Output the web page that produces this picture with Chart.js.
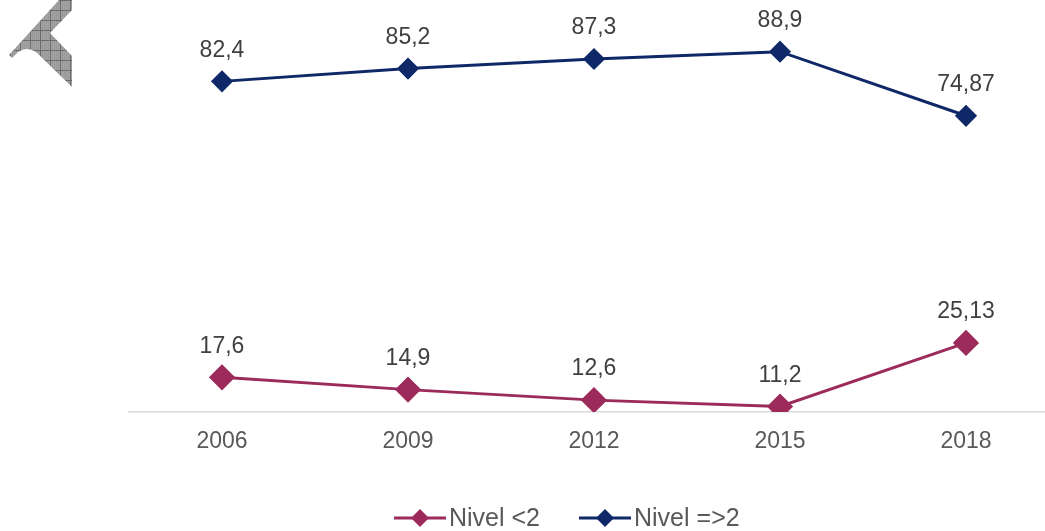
<!DOCTYPE html>
<html>
<head>
<meta charset="utf-8">
<script src="https://cdn.jsdelivr.net/npm/chart.js@4.4.1/dist/chart.umd.min.js"></script>
<style>
  html, body { margin: 0; padding: 0; background: #fff; overflow: hidden; }
</style>
</head>
<body>
<canvas id="nivelChart" width="1059" height="531"></canvas>
<script>
const ctx = document.getElementById('nivelChart');

// datos
var years = ['2006', '2009', '2012', '2015', '2018'];
var nivelMenor2 = [17.6, 14.9, 12.6, 11.2, 25.13];
var nivelMayor2 = [82.4, 85.2, 87.3, 88.9, 74.87];
var seriesNames = ['Nivel <2', 'Nivel =>2'];

var colorMenor = '#9c2b5c';
var colorMayor = '#0f2867';
var fontFam = '"Liberation Sans", Arial, sans-serif';

function fmt(v) {
   return String(v).replace('.', ',');
}

// logo gris arriba a la izquierda
var logoPlugin = {
   id : 'logo',
   beforeDraw : function(chart) {
      var c = chart.ctx;
      var p = document.createElement('canvas');
      p.width = 10; p.height = 10;
      var pc = p.getContext('2d');
      pc.fillStyle = '#a3a3a3';
      pc.fillRect(0, 0, 10, 10);
      pc.fillStyle = '#8f8f8f';
      for (var i = 0; i < 10; i += 2) {
         for (var j = (i / 2) % 2; j < 10; j += 2) pc.fillRect(i, j, 1, 1);
      }
      pc.fillStyle = '#6b6b6b';
      pc.fillRect(0, 0, 10, 1);
      pc.fillRect(0, 0, 1, 10);
      c.save();
      c.fillStyle = c.createPattern(p, 'repeat');
      c.beginPath();
      c.moveTo(59, 0);
      c.lineTo(72, 0);
      c.lineTo(72, 10);
      c.lineTo(50, 33);
      c.lineTo(72, 56);
      c.lineTo(72, 87);
      c.lineTo(36, 52);
      c.quadraticCurveTo(27, 46, 18, 52);
      c.lineTo(12, 58);
      c.lineTo(9, 55);
      c.closePath();
      c.fill();
      c.restore();
   }
};

// etiquetas de valores sobre los puntos
var valueLabels = {
   id : 'valueLabels',
   afterDatasetsDraw : function(chart) {
      var c = chart.ctx;
      c.save();
      c.font = '23px ' + fontFam;
      c.fillStyle = '#404040';
      c.textAlign = 'center';
      c.textBaseline = 'middle';
      chart.data.datasets.forEach(function(ds, di) {
         chart.getDatasetMeta(di).data.forEach(function(pt, i) {
            c.fillText(fmt(ds.data[i]), pt.x, pt.y - 31);
         });
      });
      c.restore();
   }
};

// leyenda con linea + rombo
var lineLegend = {
   id : 'lineLegend',
   afterDraw : function(chart) {
      var c = chart.ctx;
      var x = 394, y = 518;
      c.save();
      c.font = '25px ' + fontFam;
      c.textBaseline = 'middle';
      chart.data.datasets.forEach(function(ds) {
         c.strokeStyle = ds.borderColor;
         c.lineWidth = 3;
         c.beginPath();
         c.moveTo(x, y);
         c.lineTo(x + 52, y);
         c.stroke();
         c.fillStyle = ds.borderColor;
         c.beginPath();
         c.moveTo(x + 26, y - 9);
         c.lineTo(x + 35, y);
         c.lineTo(x + 26, y + 9);
         c.lineTo(x + 17, y);
         c.closePath();
         c.fill();
         c.fillStyle = '#595959';
         c.textAlign = 'left';
         c.fillText(ds.label, x + 55, y + 1);
         x += 55 + c.measureText(ds.label).width + 39;
      });
      c.restore();
   }
};

var data = {
   labels : years,
   datasets : [ {
      label : seriesNames[0],
      data : nivelMenor2,
      borderColor : colorMenor,
      backgroundColor : colorMenor,
      borderWidth : 3,
      pointStyle : 'rectRot',
      pointRadius : 11,
      pointHoverRadius : 11,
      tension : 0
   }, {
      label : seriesNames[1],
      data : nivelMayor2,
      borderColor : colorMayor,
      backgroundColor : colorMayor,
      borderWidth : 3,
      pointStyle : 'rectRot',
      pointRadius : 9,
      pointHoverRadius : 9,
      tension : 0
   } ]
};

var options = {
   responsive : false,
   animation : false,
   layout : {
      autoPadding : false,
      padding : { left : 129, top : 1, right : 0, bottom : 0 }
   },
   plugins : {
      legend : { display : false },
      tooltip : { enabled : false }
   },
   scales : {
      x : {
         offset : true,
         grid : { display : false, drawTicks : false },
         border : { display : true, color : '#d9d9d9', width : 1.5 },
         ticks : {
            color : '#595959',
            font : { family : fontFam, size : 23 },
            padding : 16
         },
         afterFit : function(scale) { scale.height = 119; }
      },
      y : {
         display : false,
         min : 10,
         max : 100
      }
   }
};

new Chart(ctx, {
   type : 'line',
   data : data,
   options : options,
   plugins : [ logoPlugin, valueLabels, lineLegend ]
});
</script>
</body>
</html>
